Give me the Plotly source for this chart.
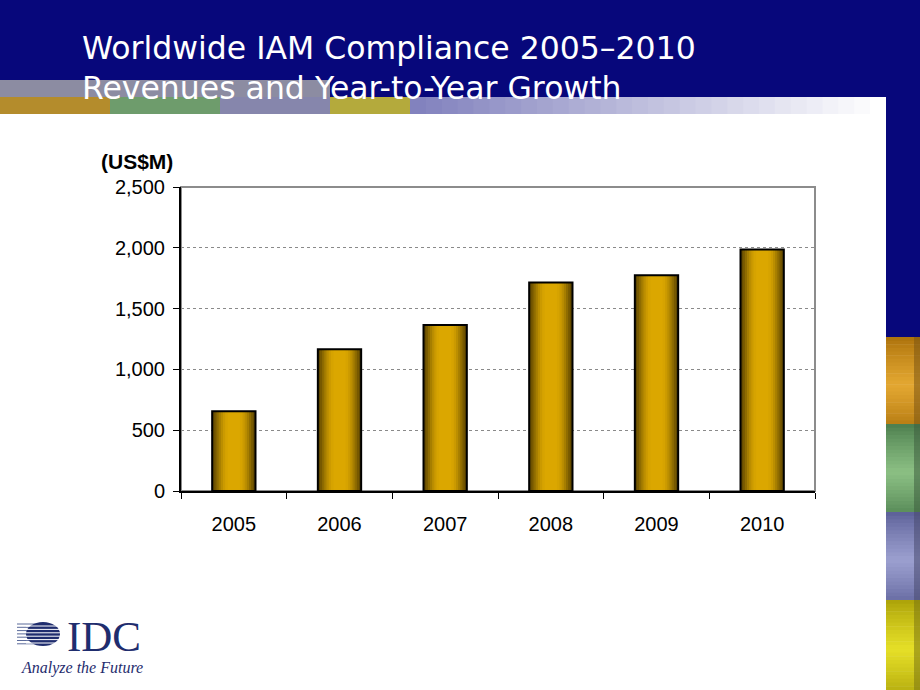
import plotly.graph_objects as go

years = ["2005", "2006", "2007", "2008", "2009", "2010"]
revenue = [655, 1165, 1365, 1715, 1775, 1985]
y_ticks = [0, 500, 1000, 1500, 2000, 2500]
title_lines = ["Worldwide IAM Compliance 2005–2010", "Revenues and Year-to-Year Growth"]
y_unit = "(US$M)"

W, H = 920, 690
L, R, T, B = 181, 815, 187, 491  # plot area in px


def px(x):
    return (x - L) / (R - L)


def py(y):
    return (B - y) / (B - T)


fig = go.Figure()

# gradient bars: overlay layers from outer (dark) to inner (gold)
bar_w = 0.41
layers = [
    (1.00, "#5f4700"),
    (0.90, "#775900"),
    (0.80, "#8f6c00"),
    (0.70, "#a67e00"),
    (0.60, "#bb8e00"),
    (0.50, "#cb9a00"),
    (0.40, "#d6a300"),
    (0.28, "#dba700"),
]
for frac, col in layers:
    fig.add_trace(go.Bar(
        x=years, y=revenue, width=bar_w * frac,
        marker=dict(color=col, line=dict(width=0)),
        hoverinfo="skip", showlegend=False,
    ))
fig.add_trace(go.Bar(
    x=years, y=revenue, width=bar_w,
    marker=dict(color="rgba(0,0,0,0)", line=dict(color="black", width=2)),
    showlegend=False,
))

shapes = []
NAVY = "#07077b"


def rect(x0, y0, x1, y1, color, layer="below"):
    shapes.append(dict(type="rect", xref="paper", yref="paper",
                       x0=px(x0), x1=px(x1), y0=py(y0), y1=py(y1),
                       fillcolor=color, line=dict(width=0), layer=layer))


def mix(a, b, t):
    return tuple(int(a[k] + (b[k] - a[k]) * t) for k in range(3))


def soft_block(x0, y0, x1, y1, outer, inner, n=24):
    # vertical soft gradient: darker at top/bottom, lighter in the middle
    h = (y1 - y0) / n
    for i in range(n):
        t = 1 - abs((i + 0.5) / n - 0.55) / 0.55
        t = max(0.0, min(1.0, t)) ** 0.8
        c = mix(outer, inner, t)
        rect(x0, y0 + i * h, x1, y0 + (i + 1) * h + 0.6, "rgb(%d,%d,%d)" % c)
    # darker right edge
    d = mix(outer, (40, 40, 40), 0.35)
    rect(x1 - 6, y0, x1, y1, "rgba(%d,%d,%d,0.55)" % d)


# header
rect(0, 0, W, 98, NAVY)
rect(0, 80, 330, 98, "#8c8ca2")
rect(0, 97, 110, 114, "#b48c2c")
rect(110, 97, 220, 114, "#6e9c6c")
rect(220, 97, 330, 114, "#8686ac")
rect(330, 97, 410, 114, "#b4aa3c")
n = 30
c0 = (130, 130, 190)
for i in range(n):
    t = i / (n - 1)
    c = mix(c0, (255, 255, 255), t)
    rect(410 + (886 - 410) * i / n, 97, 410 + (886 - 410) * (i + 1) / n + 1, 114,
         "rgb(%d,%d,%d)" % c)

# right strip
rect(886, 0, W, 337, NAVY)
soft_block(886, 337, W, 424, (170, 112, 10), (228, 168, 50))
soft_block(886, 424, W, 512, (74, 124, 76), (140, 192, 132))
soft_block(886, 512, W, 600, (90, 94, 150), (156, 160, 208))
soft_block(886, 600, W, H, (170, 160, 8), (230, 224, 40))

# plot border (gray top/right)
shapes.append(dict(type="rect", xref="paper", yref="paper", x0=0, x1=1, y0=0, y1=1,
                   line=dict(color="#8c8c8c", width=2), layer="below"))

# IDC globe
LOGO = "#1f2d6e"
for k in range(7):
    yy = 624 + k * 3.3
    shapes.append(dict(type="line", xref="paper", yref="paper",
                       x0=px(17), x1=px(40), y0=py(yy), y1=py(yy),
                       line=dict(color="#5a6a9a", width=1), layer="above"))
shapes.append(dict(type="circle", xref="paper", yref="paper",
                   x0=px(26), x1=px(60), y0=py(622), y1=py(646),
                   fillcolor=LOGO, line=dict(width=0), layer="above"))
for k in range(6):
    yy = 626 + k * 3.4
    shapes.append(dict(type="line", xref="paper", yref="paper",
                       x0=px(26), x1=px(60), y0=py(yy), y1=py(yy),
                       line=dict(color="white", width=1), layer="above"))

annotations = []
for i, line in enumerate(title_lines):
    annotations.append(dict(text=line, xref="paper", yref="paper",
                            x=px(80), y=py(48 + 40 * i), xanchor="left", yanchor="middle",
                            showarrow=False,
                            font=dict(family="DejaVu Sans", size=31.5, color="white")))
annotations.append(dict(text="<b>" + y_unit + "</b>", xref="paper", yref="paper",
                        x=px(99), y=py(161), xanchor="left", yanchor="middle",
                        showarrow=False,
                        font=dict(family="Arial, Liberation Sans", size=21, color="black")))
annotations.append(dict(text="IDC", xref="paper", yref="paper",
                        x=px(65), y=py(636), xanchor="left", yanchor="middle",
                        showarrow=False,
                        font=dict(family="Liberation Serif, DejaVu Serif", size=43,
                                  color=LOGO)))
annotations.append(dict(text="<i>Analyze the Future</i>", xref="paper", yref="paper",
                        x=px(19), y=py(668), xanchor="left", yanchor="middle",
                        showarrow=False,
                        font=dict(family="Liberation Serif, DejaVu Serif", size=16,
                                  color=LOGO)))

fig.update_layout(
    width=W, height=H,
    margin=dict(l=L, r=W - R, t=T, b=H - B, pad=0),
    paper_bgcolor="white", plot_bgcolor="white",
    barmode="overlay",
    shapes=shapes, annotations=annotations,
    font=dict(family="Arial, Liberation Sans", size=20, color="black"),
    xaxis=dict(type="category", showline=True, linecolor="black", linewidth=2,
               ticks="outside", tickson="boundaries", ticklen=6, tickcolor="black",
               tickwidth=1, showgrid=False, ticklabelstandoff=14,
               tickfont=dict(size=20), fixedrange=True),
    yaxis=dict(range=[0, 2500], tickvals=y_ticks, tickformat=",",
               showline=True, linecolor="black", linewidth=2,
               ticks="outside", ticklen=6, tickcolor="black", tickwidth=1,
               showgrid=True, gridcolor="#8a8a8a", griddash="dot", gridwidth=1,
               zeroline=False, ticklabelstandoff=4,
               tickfont=dict(size=20), fixedrange=True),
)

fig.write_html(
    "out.html",
    config={"displayModeBar": False},
    post_script="document.body.style.margin='0';document.body.style.overflow='hidden';",
)
